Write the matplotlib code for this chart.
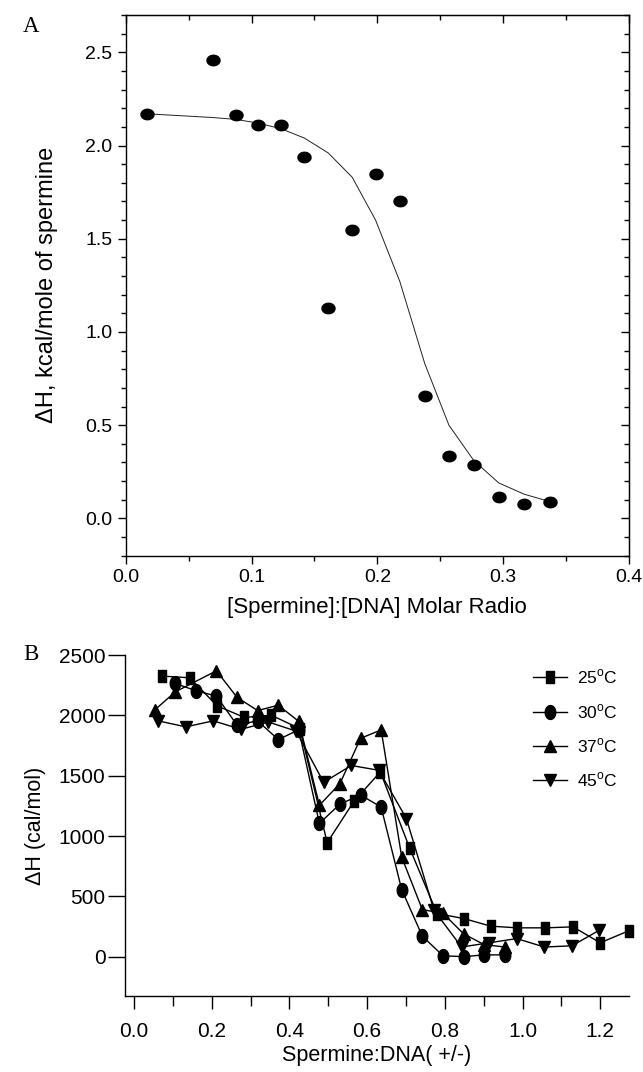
import numpy as np
import matplotlib
matplotlib.use("Agg")
import matplotlib.pyplot as plt
from matplotlib.path import Path
from matplotlib.ticker import MultipleLocator

plt.rcParams['font.family'] = ['Liberation Sans', 'DejaVu Sans']
plt.rcParams['mathtext.fontset'] = 'custom'
plt.rcParams['mathtext.rm'] = 'Liberation Sans'

# Panel A: spermine titration, points + fitted curve
ratio_a = [0.0172, 0.0696, 0.0878, 0.1054, 0.1235, 0.142, 0.161, 0.180,
           0.1986, 0.2179, 0.2377, 0.2569, 0.2767, 0.2966, 0.3167, 0.3372]
dh_a = [2.17, 2.46, 2.165, 2.11, 2.11, 1.94, 1.13, 1.545,
        1.845, 1.70, 0.655, 0.335, 0.285, 0.115, 0.08, 0.086]
fit_a = [2.17, 2.15, 2.14, 2.12, 2.09, 2.04, 1.96, 1.83,
         1.60, 1.27, 0.83, 0.50, 0.31, 0.19, 0.13, 0.09]

# Panel B: dH vs charge ratio at four temperatures
x_25 = [0.072, 0.143, 0.214, 0.284, 0.353, 0.427, 0.497, 0.566, 0.634, 0.709,
        0.780, 0.849, 0.918, 0.987, 1.058, 1.130, 1.200, 1.273]
y_25 = [2326, 2312, 2079, 1983, 2002, 1890, 945, 1288, 1532, 903,
        357, 316, 253, 239, 239, 247, 115, 214]
x_30 = [0.106, 0.159, 0.212, 0.265, 0.318, 0.371, 0.424, 0.477, 0.530, 0.583,
        0.636, 0.689, 0.742, 0.795, 0.848, 0.901, 0.954]
y_30 = [2265, 2205, 2160, 1920, 1955, 1800, 1880, 1105, 1265, 1340,
        1240, 555, 170, 8, 0, 15, 15]
x_37 = [0.053, 0.106, 0.212, 0.265, 0.318, 0.371, 0.424, 0.477, 0.530, 0.583,
        0.636, 0.689, 0.742, 0.795, 0.848, 0.901, 0.954]
y_37 = [2045, 2195, 2370, 2150, 2040, 2085, 1950, 1255, 1435, 1810,
        1880, 825, 390, 360, 190, 100, 80]
x_45 = [0.062, 0.133, 0.204, 0.275, 0.346, 0.417, 0.488, 0.559, 0.630, 0.701,
        0.772, 0.843, 0.914, 0.985, 1.056, 1.127, 1.198]
y_45 = [1955, 1905, 1955, 1885, 1945, 1870, 1445, 1585, 1545, 1145,
        385, 80, 115, 150, 80, 90, 220]


def ellipse(wx, hy, n=40):
    t = np.linspace(0, 2 * np.pi, n)
    v = np.column_stack([wx * np.cos(t), hy * np.sin(t)])
    return Path(v, closed=True)


def rect(wx, hy):
    return Path([(-wx, -hy), (wx, -hy), (wx, hy), (-wx, hy), (-wx, -hy)], closed=True)


dot_a = ellipse(1.0, 0.8)
circ_b = ellipse(0.76, 1.0)
sq_b = rect(0.72, 1.0)

series_b = [
    (x_25, y_25, sq_b, 8.6, r'25$^{\rm o}$C'),
    (x_30, y_30, circ_b, 10.0, r'30$^{\rm o}$C'),
    (x_37, y_37, '^', 8.6, r'37$^{\rm o}$C'),
    (x_45, y_45, 'v', 8.6, r'45$^{\rm o}$C'),
]

fig = plt.figure(figsize=(6.43, 10.72), dpi=100)

# ---- panel A ----
axA = fig.add_axes([0.1955, 0.4816, 0.7827, 0.5044])
axA.plot(ratio_a, fit_a, color='#222222', lw=0.7)
axA.plot(ratio_a, dh_a, ls='none', marker=dot_a, color='black', ms=9.4, mec='black')
axA.set_xlim(0, 0.4)
axA.set_ylim(-0.2, 2.7)
axA.xaxis.set_major_locator(MultipleLocator(0.1))
axA.xaxis.set_minor_locator(MultipleLocator(0.05))
axA.yaxis.set_major_locator(MultipleLocator(0.5))
axA.yaxis.set_minor_locator(MultipleLocator(0.1))
axA.tick_params(which='both', direction='out', width=1.0, labelsize=14)
axA.tick_params(which='major', length=6)
axA.tick_params(which='minor', length=3.5)
for s in axA.spines.values():
    s.set_linewidth(1.0)
# mirrored inward ticks on top/right
axA_top = axA.secondary_xaxis('top')
axA_top.xaxis.set_major_locator(MultipleLocator(0.1))
axA_top.xaxis.set_minor_locator(MultipleLocator(0.05))
axA_top.tick_params(which='both', direction='in', labeltop=False, width=1.0)
axA_top.tick_params(which='major', length=6)
axA_top.tick_params(which='minor', length=3.5)
axA_r = axA.secondary_yaxis('right')
axA_r.yaxis.set_major_locator(MultipleLocator(0.5))
axA_r.yaxis.set_minor_locator(MultipleLocator(0.1))
axA_r.tick_params(which='both', direction='in', labelright=False, width=1.0)
axA_r.tick_params(which='major', length=6)
axA_r.tick_params(which='minor', length=3.5)
axA.set_xlabel('[Spermine]:[DNA] Molar Radio', fontsize=16, labelpad=8)
axA.set_ylabel('\u0394H, kcal/mole of spermine', fontsize=17)
axA.yaxis.set_label_coords(-0.135, 0.5)
fig.text(31 / 643, 1 - 27 / 1072, 'A', family='Liberation Serif', fontsize=16.5,
         ha='center', va='center')

# ---- panel B ----
axB = fig.add_axes([0.1944, 0.0709, 0.7832, 0.318])
for xs, ys, m, ms, lab in series_b:
    axB.plot(xs, ys, marker=m, color='black', lw=1.0, ms=ms, label=lab,
             clip_on=False)
axB.set_xlim(-0.0234, 1.273)
axB.set_ylim(-326, 2500)
axB.spines['top'].set_visible(False)
axB.spines['right'].set_visible(False)
for s in axB.spines.values():
    s.set_linewidth(1.0)
axB.xaxis.set_major_locator(MultipleLocator(0.2))
axB.xaxis.set_minor_locator(MultipleLocator(0.1))
axB.yaxis.set_major_locator(MultipleLocator(500))
axB.tick_params(which='both', direction='out', width=1.0, labelsize=15)
axB.tick_params(axis='x', which='major', length=9.5, pad=9)
axB.tick_params(axis='x', which='minor', length=7)
axB.tick_params(axis='y', which='major', length=12.5, pad=1.5)
axB.set_xlabel('Spermine:DNA( +/-)', fontsize=15.5, labelpad=3)
axB.set_ylabel('\u0394H (cal/mol)', fontsize=15.5)
axB.yaxis.set_label_coords(-0.157, 0.5)
axB.legend(loc='upper left', bbox_to_anchor=(0.8285, 0.377),
           bbox_transform=fig.transFigure, frameon=False, fontsize=12.5,
           handlelength=1.95, handletextpad=0.6, labelspacing=0.9,
           borderpad=0, borderaxespad=0)
fig.text(31 / 643, 1 - 655 / 1072, 'B', family='Liberation Serif', fontsize=16.5,
         ha='center', va='center')

fig.savefig('out.png', dpi=100)
